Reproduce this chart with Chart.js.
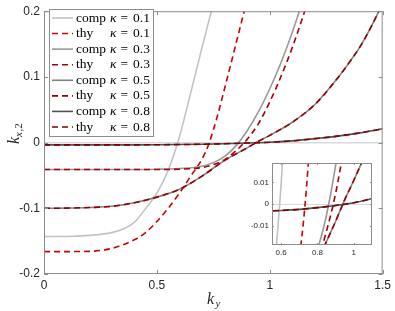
<!DOCTYPE html>
<html>
<head>
<meta charset="utf-8">
<script src="https://cdn.jsdelivr.net/npm/chart.js@4.4.1/dist/chart.umd.min.js"></script>
<style>
  html, body { margin: 0; padding: 0; background: #fff; }
  #wrap { position: relative; width: 395px; height: 311px; }
  #main { position: absolute; left: 0; top: 0; }
  #inset { position: absolute; left: 230px; top: 150px; }
</style>
</head>
<body>
<div id="wrap">
  <canvas id="main" width="395" height="311"></canvas>
  <canvas id="inset" width="150" height="115"></canvas>
</div>
<script>
  // ky samples and k_x,2 values
  const kyComp01 = [0, 0.1, 0.2, 0.3, 0.35, 0.4, 0.45, 0.5, 0.55, 0.6, 0.65, 0.7, 0.76];
  const comp01   = [-0.143, -0.1429, -0.1412, -0.137, -0.1315, -0.1215, -0.1005, -0.077, -0.042, 0.009, 0.076, 0.145, 0.225];

  const kyThy01 = [0, 0.2, 0.3, 0.4, 0.45, 0.5, 0.55, 0.6, 0.65, 0.7, 0.73, 0.77, 0.81, 0.85, 0.9];
  const thy01   = [-0.166, -0.1655, -0.161, -0.148, -0.137, -0.12, -0.1, -0.077, -0.051, -0.025, -0.002, 0.043, 0.096, 0.15, 0.218];

  const kyComp03 = [0, 0.3, 0.5, 0.6, 0.7, 0.75, 0.8, 0.85, 0.9, 0.95, 1.0, 1.05, 1.1, 1.15];
  const comp03   = [-0.041, -0.041, -0.0405, -0.0395, -0.036, -0.0305, -0.021, -0.005, 0.018, 0.047, 0.082, 0.122, 0.168, 0.22];

  const kyThy03 = [0, 0.5, 0.6, 0.7, 0.75, 0.8, 0.85, 0.9, 0.95, 1.0, 1.05, 1.1, 1.15, 1.2];
  const thy03   = [-0.041, -0.041, -0.0405, -0.038, -0.0335, -0.026, -0.0125, 0.005, 0.029, 0.062, 0.101, 0.145, 0.195, 0.25];

  const ky05   = [0, 0.1, 0.2, 0.3, 0.4, 0.5, 0.6, 0.7, 0.8, 0.9, 0.95, 1.0, 1.1, 1.2, 1.3, 1.35, 1.4, 1.45, 1.5];
  const comp05 = [-0.1, -0.0997, -0.0988, -0.097, -0.0915, -0.083, -0.071, -0.051, -0.027, -0.008, 0.002, 0.011, 0.031, 0.058, 0.098, 0.121, 0.146, 0.177, 0.212];
  const thy05  = [-0.1, -0.0997, -0.0988, -0.097, -0.0915, -0.083, -0.071, -0.051, -0.027, -0.008, 0.002, 0.011, 0.031, 0.058, 0.098, 0.121, 0.146, 0.177, 0.212];

  const ky08   = [0, 0.2, 0.4, 0.5, 0.6, 0.7, 0.8, 0.9, 1.0, 1.1, 1.2, 1.3, 1.4, 1.5];
  const comp08 = [-0.0035, -0.0035, -0.0034, -0.0033, -0.003, -0.0025, -0.0017, -0.0007, 0.0006, 0.0026, 0.006, 0.0098, 0.0148, 0.021];
  const thy08  = [-0.0035, -0.0035, -0.0034, -0.0033, -0.003, -0.0025, -0.0017, -0.0007, 0.0006, 0.0026, 0.006, 0.0098, 0.0148, 0.021];

  const kappaLabels = ['0.1', '0.3', '0.5', '0.8'];
  const compColors = ['#c2c2c2', '#999999', '#828282', '#505050'];
  const thyColors  = ['#cc0000', '#a80000', '#960000', '#800000'];

  const xTicksMain  = [0, 0.5, 1, 1.5];
  const yTicksMain  = [-0.2, -0.1, 0, 0.1, 0.2];
  const xTicksInset = [0.6, 0.8, 1];
  const yTicksInset = [-0.01, 0, 0.01];

  const textColor = '#262626';
  const frameColor = '#8c8c8c';

  function pts(xs, ys) {
    return xs.map((x, i) => ({ x: x, y: ys[i] }));
  }

  function buildDatasets() {
    const comps = [[kyComp01, comp01], [kyComp03, comp03], [ky05, comp05], [ky08, comp08]];
    const thys  = [[kyThy01, thy01], [kyThy03, thy03], [ky05, thy05], [ky08, thy08]];
    const out = [];
    kappaLabels.forEach((k, i) => {
      out.push({
        label: 'comp κ = ' + k, word: 'comp', kappa: k,
        data: pts(comps[i][0], comps[i][1]),
        borderColor: compColors[i], borderWidth: 1.6
      });
      out.push({
        label: 'thy κ = ' + k, word: 'thy', kappa: k,
        data: pts(thys[i][0], thys[i][1]),
        borderColor: thyColors[i], borderWidth: 1.6, borderDash: [6, 4]
      });
    });
    // later series on top, as in the original figure
    out.forEach((ds, i) => {
      ds.order = out.length - i;
      ds.pointRadius = 0;
      ds.fill = false;
      ds.cubicInterpolationMode = 'monotone';
    });
    return out;
  }

  /* box round the axes, ticks pointing inwards */
  const framePlugin = {
    id: 'frame',
    beforeDraw(chart, args, opts) {
      if (!opts.fillArea) return;
      const a = chart.chartArea;
      chart.ctx.save();
      chart.ctx.fillStyle = '#fff';
      chart.ctx.fillRect(a.left, a.top, a.right - a.left, a.bottom - a.top);
      chart.ctx.restore();
    },
    afterDatasetsDraw(chart, args, opts) {
      const ctx = chart.ctx;
      const a = chart.chartArea;
      const x = chart.scales.x, y = chart.scales.y;
      ctx.save();
      ctx.strokeStyle = frameColor;
      ctx.lineWidth = 1;
      ctx.strokeRect(a.left + 0.5, a.top + 0.5, a.right - a.left - 1, a.bottom - a.top - 1);
      ctx.beginPath();
      x.ticks.forEach(t => {
        const px = Math.round(x.getPixelForValue(t.value)) + 0.5;
        ctx.moveTo(px, a.bottom); ctx.lineTo(px, a.bottom - opts.len);
        ctx.moveTo(px, a.top); ctx.lineTo(px, a.top + opts.len);
      });
      y.ticks.forEach(t => {
        const py = Math.round(y.getPixelForValue(t.value)) + 0.5;
        ctx.moveTo(a.left, py); ctx.lineTo(a.left + opts.len, py);
        ctx.moveTo(a.right, py); ctx.lineTo(a.right - opts.len, py);
      });
      ctx.stroke();
      ctx.restore();
    }
  };

  /* MATLAB style legend box in the upper left corner */
  const legendBoxPlugin = {
    id: 'legendBox',
    afterDraw(chart) {
      const ctx = chart.ctx;
      ctx.save();
      ctx.fillStyle = '#fff';
      ctx.fillRect(49.5, 9.5, 104, 127);
      ctx.strokeStyle = frameColor;
      ctx.lineWidth = 1;
      ctx.strokeRect(49.5, 9.5, 104, 127);
      ctx.textBaseline = 'middle';
      chart.data.datasets.forEach((ds, i) => {
        const yy = 18 + i * 15.57;
        ctx.strokeStyle = ds.borderColor;
        ctx.lineWidth = ds.borderWidth;
        ctx.setLineDash(ds.borderDash || []);
        ctx.beginPath();
        ctx.moveTo(52, yy); ctx.lineTo(73, yy);
        ctx.stroke();
        ctx.setLineDash([]);
        ctx.fillStyle = '#000';
        ctx.font = '13.5px "Liberation Serif"';
        ctx.fillText(ds.word, 76, yy);
        ctx.font = 'italic 13.5px "Liberation Serif"';
        ctx.fillText('κ', 110, yy);
        ctx.font = '13.5px "Liberation Serif"';
        ctx.fillText('=', 120.5, yy);
        ctx.fillText(ds.kappa, 133, yy);
      });
      ctx.restore();
    }
  };

  /* axis labels k_y and k_{x,2} */
  const axisTitlePlugin = {
    id: 'axisTitles',
    afterDraw(chart) {
      const ctx = chart.ctx;
      ctx.save();
      ctx.fillStyle = textColor;
      ctx.textBaseline = 'alphabetic';
      ctx.font = 'italic 16px "Liberation Serif"';
      ctx.fillText('k', 207, 304);
      ctx.font = 'italic 11px "Liberation Serif"';
      ctx.fillText('y', 215.5, 307);

      ctx.translate(19, 144);
      ctx.rotate(-Math.PI / 2);
      ctx.font = 'italic 16px "Liberation Serif"';
      ctx.fillText('k', 0, 0);
      const kw = ctx.measureText('k').width;
      ctx.font = 'italic 11px "Liberation Serif"';
      ctx.fillText('x', kw, 3);
      const xw = ctx.measureText('x').width;
      ctx.font = '11px "Liberation Serif"';
      ctx.fillText(',2', kw + xw + 0.5, 3);
      ctx.restore();
    }
  };

  function axes(xr, yr, xt, yt, fontSize, pad, xH, yW, zeroW) {
    return {
      x: {
        type: 'linear', min: xr[0], max: xr[1],
        afterBuildTicks: s => { s.ticks = xt.map(v => ({ value: v })); },
        afterFit: s => { s.height = xH; },
        grid: { display: false, drawTicks: false },
        border: { display: false },
        ticks: { color: textColor, padding: pad, maxRotation: 0, font: { family: 'Liberation Sans', size: fontSize }, callback: v => String(v) }
      },
      y: {
        type: 'linear', min: yr[0], max: yr[1],
        afterBuildTicks: s => { s.ticks = yt.map(v => ({ value: v })); },
        afterFit: s => { s.width = yW; },
        grid: {
          drawTicks: false,
          lineWidth: zeroW,
          color: c => (c.tick && c.tick.value === 0) ? '#d9d9d9' : 'rgba(0,0,0,0)'
        },
        border: { display: false },
        ticks: { color: textColor, padding: pad, font: { family: 'Liberation Sans', size: fontSize }, callback: v => String(v) }
      }
    };
  }

  window.addEventListener('load', function () {
    Chart.defaults.font.family = 'Liberation Sans';

    new Chart(document.getElementById('main'), {
      type: 'line',
      data: { datasets: buildDatasets() },
      options: {
        responsive: false,
        animation: false,
        layout: { padding: { top: 5, right: 7, left: 0, bottom: 0 } },
        plugins: {
          legend: { display: false },
          tooltip: { enabled: false },
          frame: { len: 4 }
        },
        scales: axes([0, 1.5], [-0.2, 0.2], xTicksMain, yTicksMain, 12, 4, 37, 44, 1.5)
      },
      plugins: [framePlugin, legendBoxPlugin, axisTitlePlugin]
    });

    new Chart(document.getElementById('inset'), {
      type: 'line',
      data: { datasets: buildDatasets() },
      options: {
        responsive: false,
        animation: false,
        layout: { padding: { top: 13, right: 8, left: 0, bottom: 0 } },
        plugins: {
          legend: { display: false },
          tooltip: { enabled: false },
          frame: { len: 2, fillArea: true }
        },
        scales: axes([0.55, 1.1], [-0.019, 0.019], xTicksInset, yTicksInset, 8, 3, 20, 42, 1)
      },
      plugins: [framePlugin]
    });
  });
</script>
</body>
</html>
